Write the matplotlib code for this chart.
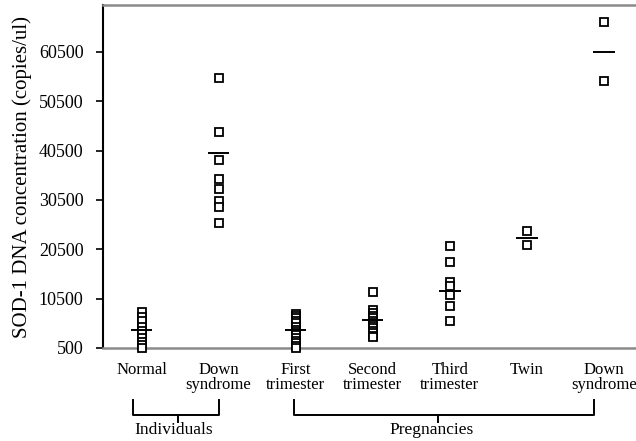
import matplotlib
matplotlib.use("Agg")
import matplotlib.pyplot as plt
from matplotlib.lines import Line2D

plt.rcParams['font.family'] = ['Liberation Serif', 'DejaVu Serif']

categories = ["Normal", "Down\nsyndrome", "First\ntrimester", "Second\ntrimester",
              "Third\ntrimester", "Twin", "Down\nsyndrome"]

normal = [7700, 6800, 6000, 4800, 3900, 3400, 2500, 1700, 1100, 600]
down_ind = [55200, 44300, 38600, 34800, 32700, 30300, 29000, 25800]
first_tri = [7300, 6900, 6500, 6000, 5500, 4800, 4200, 3700, 3100, 2600, 2000, 1500, 1000, 600]
second_tri = [11800, 8100, 7500, 7000, 6500, 6000, 5500, 5000, 4500, 4000, 3500, 3000, 2700]
third_tri = [21200, 18000, 13900, 13000, 11200, 9000, 6000]
twin = [24300, 21400]
down_preg = [66500, 54600]
series = [normal, down_ind, first_tri, second_tri, third_tri, twin, down_preg]

means = [4200, 40000, 4200, 6200, 12000, 22700, 60400]

yticks = [500, 10500, 20500, 30500, 40500, 50500, 60500]

groups = [("Individuals", 0.89, 2.0, 1.47, 1.42),
          ("Pregnancies", 2.98, 6.87, 4.85, 4.77)]

fig = plt.figure(figsize=(6.36, 4.41), dpi=100)
ax = fig.add_axes([103/636, 1-348/441, 1-103/636 + 0.01, 343/441])

for i, vals in enumerate(series):
    x = i + 1
    ax.plot([x]*len(vals), vals, linestyle='none', marker='s', markersize=5.4,
            markerfacecolor='white', markeredgecolor='black', markeredgewidth=1.3,
            clip_on=False, zorder=3)
    ax.hlines(means[i], x - 0.14, x + 0.14, color='black', linewidth=1.4, zorder=4)

ax.set_xlim(0.5, 7.5)
ax.set_ylim(500, 70000)
ax.set_yticks(yticks)
ax.set_yticklabels([str(t) for t in yticks], fontsize=13)
ax.set_xticks(range(1, 8))
ax.set_xticklabels(categories, fontsize=12, linespacing=0.95, va='top')
ax.tick_params(axis='x', length=0, pad=10)
ax.tick_params(axis='y', direction='out', length=5, width=1.2, pad=9)

ax.spines['left'].set_color('black')
ax.spines['left'].set_linewidth(1.5)
for s in ['top', 'bottom']:
    ax.spines[s].set_color('#8a8a8a')
    ax.spines[s].set_linewidth(1.8)
ax.spines['right'].set_visible(False)

ax.set_ylabel("SOD-1 DNA concentration (copies/ul)", fontsize=15, labelpad=5)

tr = ax.get_xaxis_transform()
for name, x0, x1, xc, xl in groups:
    ax.add_line(Line2D([x0, x0, x1, x1], [-0.152, -0.195, -0.195, -0.152],
                       transform=tr, color='black', linewidth=1.4, clip_on=False))
    ax.add_line(Line2D([xc, xc], [-0.195, -0.215], transform=tr, color='black',
                       linewidth=1.4, clip_on=False))
    ax.text(xl, -0.24, name, transform=tr, ha='center', va='center', fontsize=12.5)

fig.savefig("out.png", dpi=100)
